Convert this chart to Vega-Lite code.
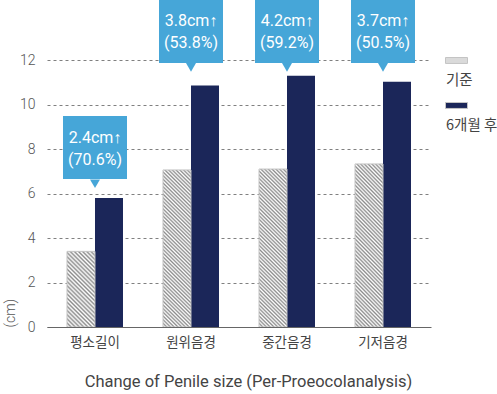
{
  "$schema": "https://vega.github.io/schema/vega-lite/v6.json",
  "width": 384,
  "height": 327,
  "autosize": {"type": "none"},
  "padding": {"left": 47, "top": 0, "right": 66, "bottom": 67},
  "background": "white",
  "config": {"view": {"stroke": null}, "font": "Roboto"},
  "datasets": {
    "bars": [
      {"category": "평소길이", "series": "기준", "value": 3.4},
      {"category": "평소길이", "series": "6개월 후", "value": 5.8},
      {"category": "원위음경", "series": "기준", "value": 7.06},
      {"category": "원위음경", "series": "6개월 후", "value": 10.86},
      {"category": "중간음경", "series": "기준", "value": 7.1},
      {"category": "중간음경", "series": "6개월 후", "value": 11.3},
      {"category": "기저음경", "series": "기준", "value": 7.33},
      {"category": "기저음경", "series": "6개월 후", "value": 11.03}
    ],
    "callouts": [
      {"category": "평소길이", "label": "2.4cm↑\n(70.6%)", "top": 9.48, "bottom": 6.65, "tip": 6.44, "labelY": 8.49},
      {"category": "원위음경", "label": "3.8cm↑\n(53.8%)", "top": 14.7, "bottom": 11.87, "tip": 11.67, "labelY": 13.75},
      {"category": "중간음경", "label": "4.2cm↑\n(59.2%)", "top": 14.7, "bottom": 11.87, "tip": 11.67, "labelY": 13.75},
      {"category": "기저음경", "label": "3.7cm↑\n(50.5%)", "top": 14.7, "bottom": 11.87, "tip": 11.67, "labelY": 13.75}
    ]
  },
  "layer": [
    {
      "data": {"name": "bars"},
      "transform": [{"filter": "datum.series === '6개월 후'"}],
      "mark": {"type": "bar"},
      "encoding": {
        "x": {
          "field": "category", "type": "nominal", "sort": ["평소길이", "원위음경", "중간음경", "기저음경"],
          "title": "Change of Penile size (Per-Proeocolanalysis)",
          "scale": {"paddingInner": 0.4167, "paddingOuter": 0.2083},
          "axis": {"domain": true, "domainColor": "#666", "domainWidth": 1, "ticks": false, "grid": false, "labelAngle": 0,
            "labelFont": "Noto Sans CJK KR", "labelFontSize": 13.5, "labelColor": "#444", "labelPadding": 8,
            "titleFont": "Roboto", "titleFontSize": 16.5, "titleFontWeight": 400, "titleColor": "#444", "titlePadding": 25, "titleX": 201, "zindex": 1}
        },
        "xOffset": {"field": "series", "type": "nominal", "scale": {"domain": ["기준", "6개월 후"], "paddingInner": 0, "paddingOuter": 0}},
        "y": {
          "field": "value", "type": "quantitative", "title": "(cm)",
          "scale": {"domain": [0, 14.7], "nice": false, "zero": true},
          "axis": {"values": [0, 2, 4, 6, 8, 10, 12], "grid": true, "gridDash": [3, 3], "gridColor": "#808080", "domain": false, "ticks": false,
            "labelPadding": 12, "labelFont": "Roboto", "labelFontSize": 14, "labelFontWeight": 300, "labelColor": "#555",
            "titleFont": "Roboto", "titleFontSize": 14, "titleFontWeight": 300, "titleColor": "#555", "titleAnchor": "start", "titlePadding": 2}
        },
        "fill": {
          "field": "series", "type": "nominal",
          "scale": {"domain": ["기준", "6개월 후"], "range": ["#dadada", "#1b2659"]},
          "legend": {"orient": "none", "legendX": 398, "legendY": 69, "title": null, "padding": 0,
            "symbolType": "M-1,-2.09H1V-1.55H-1Z", "symbolSize": 484, "symbolStrokeColor": "#c4c4c4", "symbolStrokeWidth": 1,
            "labelOffset": -22, "rowPadding": 13, "labelFont": "Noto Sans CJK KR", "labelFontSize": 14.5, "labelColor": "#444"}
        }
      }
    },
    {
      "data": {"name": "bars"},
      "transform": [{"filter": "datum.series === '기준'"}],
      "mark": {"type": "bar", "stroke": "#c4c4c4", "strokeWidth": 1},
      "encoding": {
        "x": {"field": "category", "type": "nominal", "sort": ["평소길이", "원위음경", "중간음경", "기저음경"], "title": "Change of Penile size (Per-Proeocolanalysis)"},
        "xOffset": {"field": "series", "type": "nominal", "scale": {"domain": ["기준", "6개월 후"], "paddingInner": 0, "paddingOuter": 0}},
        "y": {"field": "value", "type": "quantitative", "title": "(cm)"},
        "fill": {
          "condition": {"test": "datum.category === '평소길이'", "value": {"gradient": "linear", "x1": 0, "y1": 1, "x2": 0.4439, "y2": -0.2049, "stops": [
            {"offset": 0, "color": "#8c8c8c"}, {"offset": 0.02, "color": "#fff"}, {"offset": 0.04, "color": "#8c8c8c"}, {"offset": 0.06, "color": "#fff"},
            {"offset": 0.08, "color": "#8c8c8c"}, {"offset": 0.1, "color": "#fff"}, {"offset": 0.12, "color": "#8c8c8c"}, {"offset": 0.14, "color": "#fff"},
            {"offset": 0.16, "color": "#8c8c8c"}, {"offset": 0.18, "color": "#fff"}, {"offset": 0.2, "color": "#8c8c8c"}, {"offset": 0.22, "color": "#fff"},
            {"offset": 0.24, "color": "#8c8c8c"}, {"offset": 0.26, "color": "#fff"}, {"offset": 0.28, "color": "#8c8c8c"}, {"offset": 0.3, "color": "#fff"},
            {"offset": 0.32, "color": "#8c8c8c"}, {"offset": 0.34, "color": "#fff"}, {"offset": 0.36, "color": "#8c8c8c"}, {"offset": 0.38, "color": "#fff"},
            {"offset": 0.4, "color": "#8c8c8c"}, {"offset": 0.42, "color": "#fff"}, {"offset": 0.44, "color": "#8c8c8c"}, {"offset": 0.46, "color": "#fff"},
            {"offset": 0.48, "color": "#8c8c8c"}, {"offset": 0.5, "color": "#fff"}, {"offset": 0.52, "color": "#8c8c8c"}, {"offset": 0.54, "color": "#fff"},
            {"offset": 0.56, "color": "#8c8c8c"}, {"offset": 0.58, "color": "#fff"}, {"offset": 0.6, "color": "#8c8c8c"}, {"offset": 0.62, "color": "#fff"},
            {"offset": 0.64, "color": "#8c8c8c"}, {"offset": 0.66, "color": "#fff"}, {"offset": 0.68, "color": "#8c8c8c"}, {"offset": 0.7, "color": "#fff"},
            {"offset": 0.72, "color": "#8c8c8c"}, {"offset": 0.74, "color": "#fff"}, {"offset": 0.76, "color": "#8c8c8c"}, {"offset": 0.78, "color": "#fff"},
            {"offset": 0.8, "color": "#8c8c8c"}, {"offset": 0.82, "color": "#fff"}, {"offset": 0.84, "color": "#8c8c8c"}, {"offset": 0.86, "color": "#fff"},
            {"offset": 0.88, "color": "#8c8c8c"}, {"offset": 0.9, "color": "#fff"}, {"offset": 0.92, "color": "#8c8c8c"}, {"offset": 0.94, "color": "#fff"},
            {"offset": 0.96, "color": "#8c8c8c"}, {"offset": 0.98, "color": "#fff"}, {"offset": 1, "color": "#8c8c8c"}
          ]}},
          "value": {"gradient": "linear", "x1": 0, "y1": 1, "x2": 0.2008, "y2": -0.1407, "stops": [
            {"offset": 0, "color": "#8c8c8c"}, {"offset": 0.01, "color": "#fff"}, {"offset": 0.02, "color": "#8c8c8c"}, {"offset": 0.03, "color": "#fff"},
            {"offset": 0.04, "color": "#8c8c8c"}, {"offset": 0.05, "color": "#fff"}, {"offset": 0.06, "color": "#8c8c8c"}, {"offset": 0.07, "color": "#fff"},
            {"offset": 0.08, "color": "#8c8c8c"}, {"offset": 0.09, "color": "#fff"}, {"offset": 0.1, "color": "#8c8c8c"}, {"offset": 0.11, "color": "#fff"},
            {"offset": 0.12, "color": "#8c8c8c"}, {"offset": 0.13, "color": "#fff"}, {"offset": 0.14, "color": "#8c8c8c"}, {"offset": 0.15, "color": "#fff"},
            {"offset": 0.16, "color": "#8c8c8c"}, {"offset": 0.17, "color": "#fff"}, {"offset": 0.18, "color": "#8c8c8c"}, {"offset": 0.19, "color": "#fff"},
            {"offset": 0.2, "color": "#8c8c8c"}, {"offset": 0.21, "color": "#fff"}, {"offset": 0.22, "color": "#8c8c8c"}, {"offset": 0.23, "color": "#fff"},
            {"offset": 0.24, "color": "#8c8c8c"}, {"offset": 0.25, "color": "#fff"}, {"offset": 0.26, "color": "#8c8c8c"}, {"offset": 0.27, "color": "#fff"},
            {"offset": 0.28, "color": "#8c8c8c"}, {"offset": 0.29, "color": "#fff"}, {"offset": 0.3, "color": "#8c8c8c"}, {"offset": 0.31, "color": "#fff"},
            {"offset": 0.32, "color": "#8c8c8c"}, {"offset": 0.33, "color": "#fff"}, {"offset": 0.34, "color": "#8c8c8c"}, {"offset": 0.35, "color": "#fff"},
            {"offset": 0.36, "color": "#8c8c8c"}, {"offset": 0.37, "color": "#fff"}, {"offset": 0.38, "color": "#8c8c8c"}, {"offset": 0.39, "color": "#fff"},
            {"offset": 0.4, "color": "#8c8c8c"}, {"offset": 0.41, "color": "#fff"}, {"offset": 0.42, "color": "#8c8c8c"}, {"offset": 0.43, "color": "#fff"},
            {"offset": 0.44, "color": "#8c8c8c"}, {"offset": 0.45, "color": "#fff"}, {"offset": 0.46, "color": "#8c8c8c"}, {"offset": 0.47, "color": "#fff"},
            {"offset": 0.48, "color": "#8c8c8c"}, {"offset": 0.49, "color": "#fff"}, {"offset": 0.5, "color": "#8c8c8c"}, {"offset": 0.51, "color": "#fff"},
            {"offset": 0.52, "color": "#8c8c8c"}, {"offset": 0.53, "color": "#fff"}, {"offset": 0.54, "color": "#8c8c8c"}, {"offset": 0.55, "color": "#fff"},
            {"offset": 0.56, "color": "#8c8c8c"}, {"offset": 0.57, "color": "#fff"}, {"offset": 0.58, "color": "#8c8c8c"}, {"offset": 0.59, "color": "#fff"},
            {"offset": 0.6, "color": "#8c8c8c"}, {"offset": 0.61, "color": "#fff"}, {"offset": 0.62, "color": "#8c8c8c"}, {"offset": 0.63, "color": "#fff"},
            {"offset": 0.64, "color": "#8c8c8c"}, {"offset": 0.65, "color": "#fff"}, {"offset": 0.66, "color": "#8c8c8c"}, {"offset": 0.67, "color": "#fff"},
            {"offset": 0.68, "color": "#8c8c8c"}, {"offset": 0.69, "color": "#fff"}, {"offset": 0.7, "color": "#8c8c8c"}, {"offset": 0.71, "color": "#fff"},
            {"offset": 0.72, "color": "#8c8c8c"}, {"offset": 0.73, "color": "#fff"}, {"offset": 0.74, "color": "#8c8c8c"}, {"offset": 0.75, "color": "#fff"},
            {"offset": 0.76, "color": "#8c8c8c"}, {"offset": 0.77, "color": "#fff"}, {"offset": 0.78, "color": "#8c8c8c"}, {"offset": 0.79, "color": "#fff"},
            {"offset": 0.8, "color": "#8c8c8c"}, {"offset": 0.81, "color": "#fff"}, {"offset": 0.82, "color": "#8c8c8c"}, {"offset": 0.83, "color": "#fff"},
            {"offset": 0.84, "color": "#8c8c8c"}, {"offset": 0.85, "color": "#fff"}, {"offset": 0.86, "color": "#8c8c8c"}, {"offset": 0.87, "color": "#fff"},
            {"offset": 0.88, "color": "#8c8c8c"}, {"offset": 0.89, "color": "#fff"}, {"offset": 0.9, "color": "#8c8c8c"}, {"offset": 0.91, "color": "#fff"},
            {"offset": 0.92, "color": "#8c8c8c"}, {"offset": 0.93, "color": "#fff"}, {"offset": 0.94, "color": "#8c8c8c"}, {"offset": 0.95, "color": "#fff"},
            {"offset": 0.96, "color": "#8c8c8c"}, {"offset": 0.97, "color": "#fff"}, {"offset": 0.98, "color": "#8c8c8c"}, {"offset": 0.99, "color": "#fff"},
            {"offset": 1, "color": "#8c8c8c"}
          ]}
        }
      }
    },
    {
      "data": {"name": "callouts"},
      "mark": {"type": "bar", "width": 64, "color": "#46a6d8"},
      "encoding": {
        "x": {"field": "category", "type": "nominal", "sort": ["평소길이", "원위음경", "중간음경", "기저음경"], "title": "Change of Penile size (Per-Proeocolanalysis)"},
        "y": {"field": "top", "type": "quantitative", "title": "(cm)"},
        "y2": {"field": "bottom", "title": "(cm)"}
      }
    },
    {
      "data": {"name": "callouts"},
      "mark": {"type": "point", "shape": "triangle-down", "size": 100, "filled": true, "color": "#46a6d8", "opacity": 1},
      "encoding": {
        "x": {"field": "category", "type": "nominal", "sort": ["평소길이", "원위음경", "중간음경", "기저음경"], "title": "Change of Penile size (Per-Proeocolanalysis)"},
        "y": {"field": "tip", "type": "quantitative", "title": "(cm)"}
      }
    },
    {
      "data": {"name": "callouts"},
      "mark": {"type": "text", "color": "#ffffff", "font": "Roboto", "fontSize": 16, "lineBreak": "\n", "lineHeight": 22, "baseline": "middle", "align": "center"},
      "encoding": {
        "x": {"field": "category", "type": "nominal", "sort": ["평소길이", "원위음경", "중간음경", "기저음경"], "title": "Change of Penile size (Per-Proeocolanalysis)"},
        "y": {"field": "labelY", "type": "quantitative", "title": "(cm)"},
        "text": {"field": "label", "type": "nominal"}
      }
    }
  ]
}
